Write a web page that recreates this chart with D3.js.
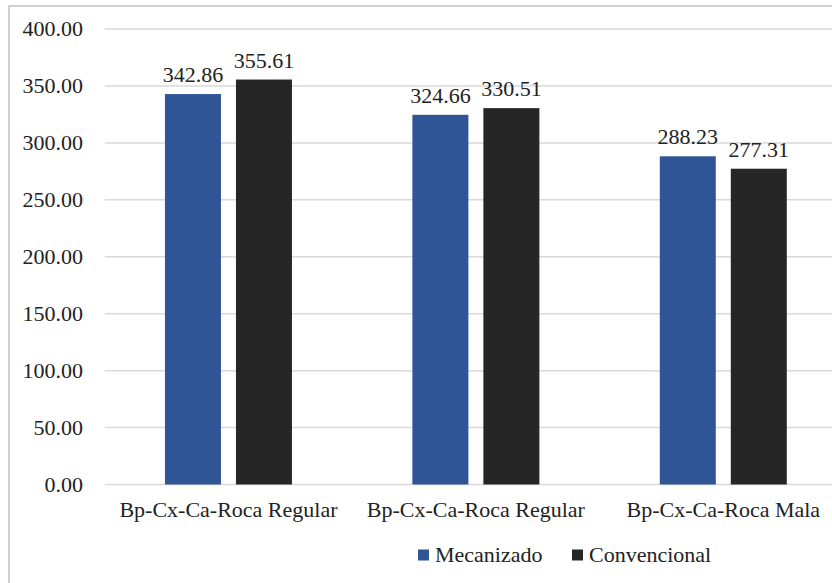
<!DOCTYPE html>
<html>
<head>
<meta charset="utf-8">
<script src="https://cdn.jsdelivr.net/npm/d3@7"></script>
</head>
<body style="margin:0">
<script>
// Chart data
const categories = ["Bp-Cx-Ca-Roca Regular", "Bp-Cx-Ca-Roca Regular ", "Bp-Cx-Ca-Roca Mala"];
const seriesNames = ["Mecanizado", "Convencional"];
const mecanizado = [342.86, 324.66, 288.23];
const convencional = [355.61, 330.51, 277.31];
const yTicks = [0, 50, 100, 150, 200, 250, 300, 350, 400];
const colors = ["#2F5597", "#262626"];

const W = 832, H = 583;
const svg = d3.select("body").append("svg").attr("width", W).attr("height", H);

// Outer chart frame
svg.append("rect")
  .attr("x", 9).attr("y", 6)
  .attr("width", 860).attr("height", 620)
  .attr("fill", "none").attr("stroke", "#d0d0d0").attr("stroke-width", 2);

const plot = { left: 104.75, right: 847, top: 29, bottom: 484.5 };
const x = d3.scaleBand().domain(categories).range([plot.left, plot.right]);
const y = d3.scaleLinear().domain([0, 400]).range([plot.bottom, plot.top]);
const fmt = d3.format(".2f");

// Gridlines
svg.selectAll("line.grid").data(yTicks).join("line").attr("class", "grid")
  .attr("x1", plot.left).attr("x2", plot.right)
  .attr("y1", d => y(d)).attr("y2", d => y(d))
  .attr("stroke", "#d9d9d9").attr("stroke-width", 1.5);

// Bars: two per category, fixed width with a small gap between them
const barW = 56, gap = 15;
const groupW = barW * 2 + gap;
const bars = [];
categories.forEach((c, i) => {
  [mecanizado[i], convencional[i]].forEach((v, j) => {
    bars.push({ x0: x(c) + x.bandwidth() / 2 - groupW / 2 + j * (barW + gap), v, j });
  });
});
svg.selectAll("rect.bar").data(bars).join("rect").attr("class", "bar")
  .attr("x", d => d.x0).attr("y", d => y(d.v))
  .attr("width", barW).attr("height", d => y(0) - y(d.v))
  .attr("fill", d => colors[d.j]);

// All text as direct children of the svg, in a serif face
const labels = [];
yTicks.forEach(t => labels.push({ s: fmt(t), x: 83, y: y(t) + 7, a: "end" }));
bars.forEach(b => labels.push({ s: fmt(b.v), x: b.x0 + barW / 2, y: y(b.v) - 12, a: "middle" }));
categories.forEach(c => labels.push({ s: c.trim(), x: x(c) + x.bandwidth() / 2, y: plot.bottom + 32, a: "middle" }));
labels.push({ s: seriesNames[0], x: 435, y: 562, a: "start" });
labels.push({ s: seriesNames[1], x: 589, y: 562, a: "start" });

svg.selectAll("text").data(labels).join("text")
  .attr("x", d => d.x).attr("y", d => d.y)
  .attr("text-anchor", d => d.a)
  .attr("fill", "#222")
  .style("font-family", d => "Liberation Serif").style("font-size", "22px")
  .text(d => d.s);

// Legend swatches
svg.selectAll("rect.key").data(colors).join("rect").attr("class", "key")
  .attr("x", (d, i) => [418, 572][i]).attr("y", 549.5)
  .attr("width", 11).attr("height", 11).attr("fill", d => d);
</script>
</body>
</html>
